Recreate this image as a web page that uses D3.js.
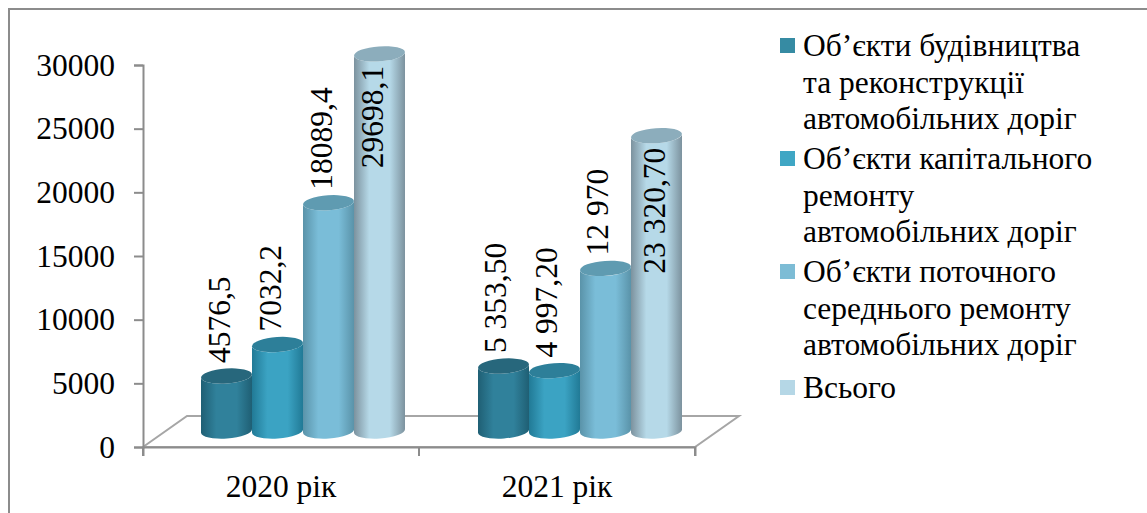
<!DOCTYPE html>
<html>
<head>
<meta charset="utf-8">
<script src="https://cdnjs.cloudflare.com/ajax/libs/d3/7.8.5/d3.min.js"></script>
<style>
html,body{margin:0;padding:0;background:#fff;overflow:hidden}
text{font-family:"Liberation Serif",serif;fill:#000}
</style>
</head>
<body>
<svg id="chart" width="1147" height="513"></svg>
<script>
// Road works funding, two years, four series of cylinders
const years = ["2020 рік", "2021 рік"];
const seriesKeys = ["construction", "capital", "current", "total"];
const construction = [4576.5, 5353.5];
const capital = [7032.2, 4997.2];
const current = [18089.4, 12970];
const total = [29698.1, 23320.7];
const seriesValues = [construction, capital, current, total];
const valueLabels = [
  ["4576,5", "5 353,50"],
  ["7032,2", "4 997,20"],
  ["18089,4", "12 970"],
  ["29698,1", "23 320,70"]
];
const legendLabels = [
  ["Об’єкти будівництва", "та реконструкції", "автомобільних доріг"],
  ["Об’єкти капітального", "ремонту", "автомобільних доріг"],
  ["Об’єкти поточного", "середнього ремонту", "автомобільних доріг"],
  ["Всього"]
];
const yTicks = [0, 5000, 10000, 15000, 20000, 25000, 30000];
// edge, mid and top-cap tones of each cylinder
const tones = [
  {edge: "#1f5f74", mid: "#30819b", cap: "#27677c", swatch: "#368ba3"},
  {edge: "#217a96", mid: "#3ba3c3", cap: "#2d7f99", swatch: "#3fa6c4"},
  {edge: "#5a93a9", mid: "#7abdd8", cap: "#5f9bb1", swatch: "#7dbcd5"},
  {edge: "#7c929e", mid: "#b6d9e8", cap: "#8cadbc", swatch: "#b5d7e6"}
];

const svg = d3.select("#chart");
const grey = "#8c8c8c";
const fontSize = "31.5px";

// Chart frame, open on the right and at the bottom
svg.append("path")
  .attr("d", d3.line()([[9, 513], [9, 9], [1147, 9]]))
  .attr("fill", "none").attr("stroke", grey).attr("stroke-width", 2);

const xAxisLeft = 143, xAxisRight = 695, axisZero = 447, axisTop = 65;
const depthX = 44, depthY = -31;
const baseLift = 16, baseShift = 22;

const y = d3.scaleLinear().domain([0, 30000]).range([axisZero, axisTop]);
// Cylinders stand in the middle of the floor, so their scale sits a little nearer
const yBar = d3.scaleLinear().domain([0, 30000]).range([434.7, 50]);
const x = d3.scaleBand().domain(years).range([xAxisLeft, xAxisRight]);
const inner = d3.scaleBand().domain(seriesKeys).range([0, 204]);

// Floor parallelogram
svg.append("path")
  .attr("d", d3.line()([
    [xAxisLeft, axisZero], [xAxisLeft + depthX, axisZero + depthY],
    [xAxisRight + depthX, axisZero + depthY], [xAxisRight, axisZero], [xAxisLeft, axisZero]
  ]))
  .attr("fill", "none").attr("stroke", "#a6a6a6").attr("stroke-width", 2);

// Value axis
const yAxis = svg.append("g")
  .attr("transform", `translate(${xAxisLeft},0)`)
  .call(d3.axisLeft(y).tickValues(yTicks).tickFormat(d3.format("d")).tickSize(9).tickPadding(19));
yAxis.selectAll("path,line").attr("stroke", grey).attr("stroke-width", 2);
yAxis.selectAll("text").style("font-size", fontSize).style("font-family", "'Liberation Serif',serif")
  .attr("fill", "#000");

// Category axis
const xAxis = svg.append("g")
  .attr("transform", `translate(0,${axisZero})`)
  .call(d3.axisBottom(x).tickSize(9).tickPadding(0));
xAxis.select("path").attr("stroke", grey).attr("stroke-width", 2);
xAxis.selectAll("line").remove();
xAxis.selectAll("text").remove();
[xAxisLeft, (xAxisLeft + xAxisRight) / 2, xAxisRight].forEach(px => {
  xAxis.append("line").attr("x1", px).attr("x2", px).attr("y1", 0).attr("y2", 9)
    .attr("stroke", grey).attr("stroke-width", 2);
});
svg.selectAll(".year").data(years).join("text")
  .attr("class", "year")
  .attr("x", d => x(d) + x.bandwidth() / 2)
  .attr("y", 497)
  .attr("text-anchor", "middle")
  .style("font-size", fontSize)
  .text(d => d);

// Horizontal gradients that give the cylinders their round look
const defs = svg.append("defs");
tones.forEach((t, i) => {
  const g = defs.append("linearGradient").attr("id", "cyl" + i)
    .attr("x1", "0%").attr("x2", "100%").attr("y1", "0%").attr("y2", "0%");
  [[0, t.edge], [0.3, t.mid], [0.7, t.mid], [1, t.edge]].forEach(([o, c]) => {
    g.append("stop").attr("offset", o).attr("stop-color", c);
  });
});

const rx = 25.5, ry = 7.5, tilt = -4;
const marks = svg.append("g");
const labelLayer = svg.append("g");

years.forEach((yr, yi) => {
  const groupLeft = x(yr) + (x.bandwidth() - inner.range()[1]) / 2 + baseShift + (yi ? 1 : 0);
  seriesKeys.forEach((key, si) => {
    const v = seriesValues[si][yi];
    const cx = groupLeft + inner(key) + inner.bandwidth() / 2;
    const base = y(0) - baseLift;
    const top = yBar(v);
    const dy = rx * Math.sin(tilt * Math.PI / 180);
    const lx = cx - rx, rxp = cx + rx;
    const body = `M${lx},${top - dy} L${lx},${base - dy}` +
      `A${rx},${ry} ${tilt} 0 0 ${rxp},${base + dy}` +
      `L${rxp},${top + dy}` +
      `A${rx},${ry} ${tilt} 0 1 ${lx},${top - dy}Z`;
    marks.append("path").attr("d", body).attr("fill", `url(#cyl${si})`);
    marks.append("ellipse")
      .attr("cx", cx).attr("cy", top).attr("rx", rx).attr("ry", ry)
      .attr("transform", `rotate(${tilt} ${cx} ${top})`)
      .attr("fill", tones[si].cap);

    // Rotated value label; the tallest bar of each group carries it inside
    const inside = si === 3;
    const labelY = inside ? top + 12 : top - 13;
    const labelX = cx + (inside && yi === 1 ? 8.5 : yi === 1 ? 2.5 : 3.5);
    labelLayer.append("text")
      .attr("transform", `translate(${labelX},${labelY}) rotate(-90)`)
      .attr("text-anchor", inside ? "end" : "start")
      .style("font-size", fontSize)
      .text(valueLabels[si][yi]);
  });
});

// Legend
const legendX = 803, lineGap = 36.6;
const blockTops = [56, 169, 282, 398];
legendLabels.forEach((lines, i) => {
  const g = svg.append("g").attr("class", "legend-item");
  g.append("rect")
    .attr("x", 780).attr("y", blockTops[i] - 18).attr("width", 15).attr("height", 15)
    .attr("fill", tones[i].swatch);
  lines.forEach((line, li) => {
    g.append("text")
      .attr("x", legendX).attr("y", blockTops[i] + li * lineGap)
      .style("font-size", fontSize)
      .text(line);
  });
});
</script>
</body>
</html>
